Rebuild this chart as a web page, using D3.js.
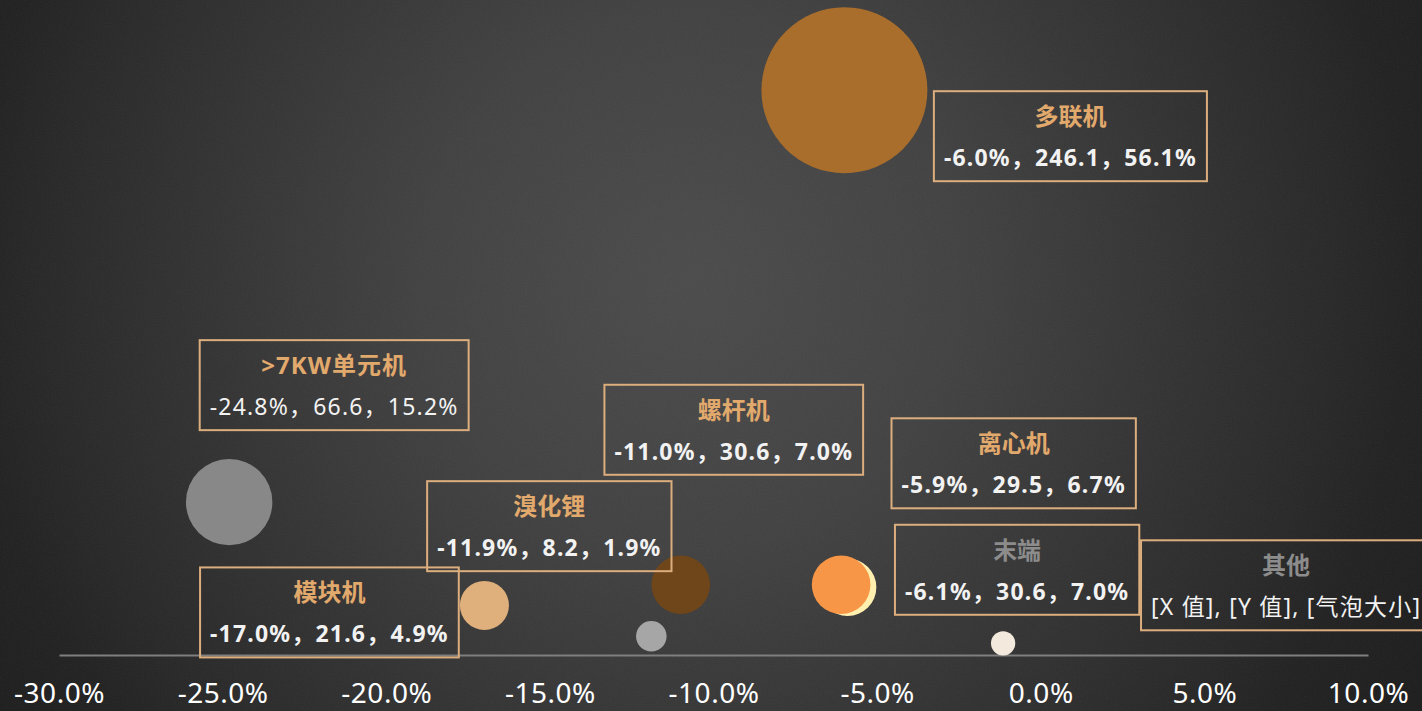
<!DOCTYPE html>
<html>
<head>
<meta charset="utf-8">
<script src="https://cdn.jsdelivr.net/npm/d3@7"></script>
<style>
	html, body { margin: 0; padding: 0; background: #1c1c1c; overflow: hidden; }
	#svg-container { width: 1422px; height: 711px; }
	text { font-family: "Noto Sans", "Noto Sans CJK SC", sans-serif; }
</style>
</head>
<body>
<div id="svg-container"></div>
<script>
// chart values
var names = ['多联机', '>7KW单元机', '模块机', '溴化锂', '螺杆机', '离心机', '末端', '其他'];
var growth = [-6.0, -24.8, -17.0, -11.9, -11.0, -5.9, -6.1, -1.15];
var volume = [246.1, 66.6, 21.6, 8.2, 30.6, 29.5, 30.6, 5.1];
var share = [56.1, 15.2, 4.9, 1.9, 7.0, 6.7, 7.0, 1.2];
var xTicks = [-30, -25, -20, -15, -10, -5, 0, 5, 10];

// label texts as they appear in the boxes
var labelTitles = ['多联机', '>7KW单元机', '模块机', '溴化锂', '螺杆机', '离心机', '末端', '其他'];
var labelValues = [
	'-6.0%，246.1，56.1%',
	'-24.8%，66.6，15.2%',
	'-17.0%，21.6，4.9%',
	'-11.9%，8.2，1.9%',
	'-11.0%，30.6，7.0%',
	'-5.9%，29.5，6.7%',
	'-6.1%，30.6，7.0%',
	'[X 值], [Y 值], [气泡大小]'
];

// styles
var bubbleColors = ['#a96d2c', '#888888', '#e0b07c', '#a6a6a6', '#6f451a', '#fff0b0', '#f79646', '#f3e9dd'];
var titleColors = ['#e2a96c', '#e2a96c', '#e2a96c', '#e2a96c', '#e2a96c', '#e2a96c', '#8c8c8c', '#8c8c8c'];
var valueBold = [true, false, true, true, true, true, true, false];
// label box offset (center x, top y) from its bubble, in px
var labelOffsets = [[226, 1], [105, -162], [-155, -38], [-102, -155], [53, -200], [166, -169], [176, -60], [283, -103]];
// draw order so that 末端 sits over 离心机
var drawOrder = [0, 1, 2, 3, 4, 5, 6, 7];

function BubbleChart(options) {
	this.options = options || {};
	this.container = this.options.container || '#svg-container';
	this.width = this.options.width || 1422;
	this.height = this.options.height || 711;
	this.init();
}

BubbleChart.prototype = {
	constructor: BubbleChart,

	init: function () {
		this._scales();
		this.drawBackground();
		this.drawAxis();
		this.drawBubbles();
		this.drawLabels();
	},

	_scales: function () {
		this.x = d3.scaleLinear().domain([-30, 10]).range([59, 1368]);
		this.y = d3.scaleLinear().domain([0, 250]).range([655, 81.25]);
		this.r = d3.scaleSqrt().domain([0, 56.1]).range([0, 83]);
	},

	drawBackground: function () {
		var svg = d3.select(this.container).append('svg')
			.attr('width', this.width).attr('height', this.height);
		this.svg = svg;
		var defs = svg.append('defs');

		var grad = defs.append('radialGradient').attr('id', 'bg')
			.attr('gradientUnits', 'userSpaceOnUse')
			.attr('cx', 690).attr('cy', 280).attr('r', 900);
		grad.append('stop').attr('offset', '0').attr('stop-color', '#4b4b4b');
		grad.append('stop').attr('offset', '0.3').attr('stop-color', '#414141');
		grad.append('stop').attr('offset', '0.72').attr('stop-color', '#272727');
		grad.append('stop').attr('offset', '0.8').attr('stop-color', '#212121');
		grad.append('stop').attr('offset', '1').attr('stop-color', '#1a1a1a');

		var noise = defs.append('filter').attr('id', 'grain')
			.attr('x', 0).attr('y', 0).attr('width', '100%').attr('height', '100%');
		noise.append('feTurbulence').attr('type', 'fractalNoise')
			.attr('baseFrequency', 0.9).attr('numOctaves', 2).attr('seed', 3);
		noise.append('feColorMatrix').attr('type', 'saturate').attr('values', 0);

		svg.append('rect').attr('width', this.width).attr('height', this.height).attr('fill', 'url(#bg)');
		svg.append('rect').attr('width', this.width).attr('height', this.height)
			.attr('filter', 'url(#grain)').attr('opacity', 0.06);
	},

	drawAxis: function () {
		var axis = d3.axisBottom(this.x)
			.tickValues(xTicks)
			.tickSize(0)
			.tickPadding(0)
			.tickFormat(function (d) { return d.toFixed(1) + '%'; });

		var g = this.svg.append('g').attr('transform', 'translate(0,' + this.y(0) + ')').call(axis);
		g.select('.domain').attr('stroke', '#7f7f7f').attr('stroke-width', 2);
		g.selectAll('.tick text')
			.attr('y', 48)
			.attr('dy', 0)
			.attr('fill', '#ffffff')
			.attr('font-size', 28)
			.attr('letter-spacing', 0.5)
			.attr('font-family', '"Noto Sans", sans-serif');
	},

	drawBubbles: function () {
		var self = this;
		this.svg.append('g').selectAll('circle')
			.data(drawOrder)
			.enter().append('circle')
			.attr('cx', function (i) { return self.x(growth[i]); })
			.attr('cy', function (i) { return self.y(volume[i]); })
			.attr('r', function (i) { return self.r(share[i]); })
			.attr('fill', function (i) { return bubbleColors[i]; });
	},

	drawLabels: function () {
		var self = this;
		var pad = 10;
		var boxH = 90;

		for (var i = 0; i < names.length; i++) {
			var cx = self.x(growth[i]) + labelOffsets[i][0];
			var top = self.y(volume[i]) + labelOffsets[i][1];
			var g = self.svg.append('g').attr('class', 'label');
			var box = g.append('rect');

			var t1 = g.append('text')
				.attr('x', cx).attr('y', top + 34)
				.attr('text-anchor', 'middle')
				.attr('font-size', 24).attr('font-weight', 'bold')
				.attr('letter-spacing', i === 1 ? 1 : 0)
				.attr('font-family', '"Noto Sans CJK SC", "Noto Sans", sans-serif')
				.attr('fill', titleColors[i])
				.text(labelTitles[i]);

			var t2 = g.append('text')
				.attr('x', cx).attr('y', top + 75)
				.attr('text-anchor', 'middle')
				.attr('font-size', 23).attr('font-weight', valueBold[i] ? 'bold' : 'normal')
				.attr('letter-spacing', 1.2)
				.attr('fill', '#f2f2f2')
				.text(labelValues[i]);

			var w = Math.max(t1.node().getComputedTextLength(), t2.node().getComputedTextLength()) + pad * 2;
			box.attr('x', cx - w / 2).attr('y', top)
				.attr('width', w).attr('height', boxH)
				.attr('fill', 'none')
				.attr('stroke', '#dcae7e')
				.attr('stroke-width', 2);
		}
	}
};

var chart = new BubbleChart({ container: '#svg-container' });
</script>
</body>
</html>
